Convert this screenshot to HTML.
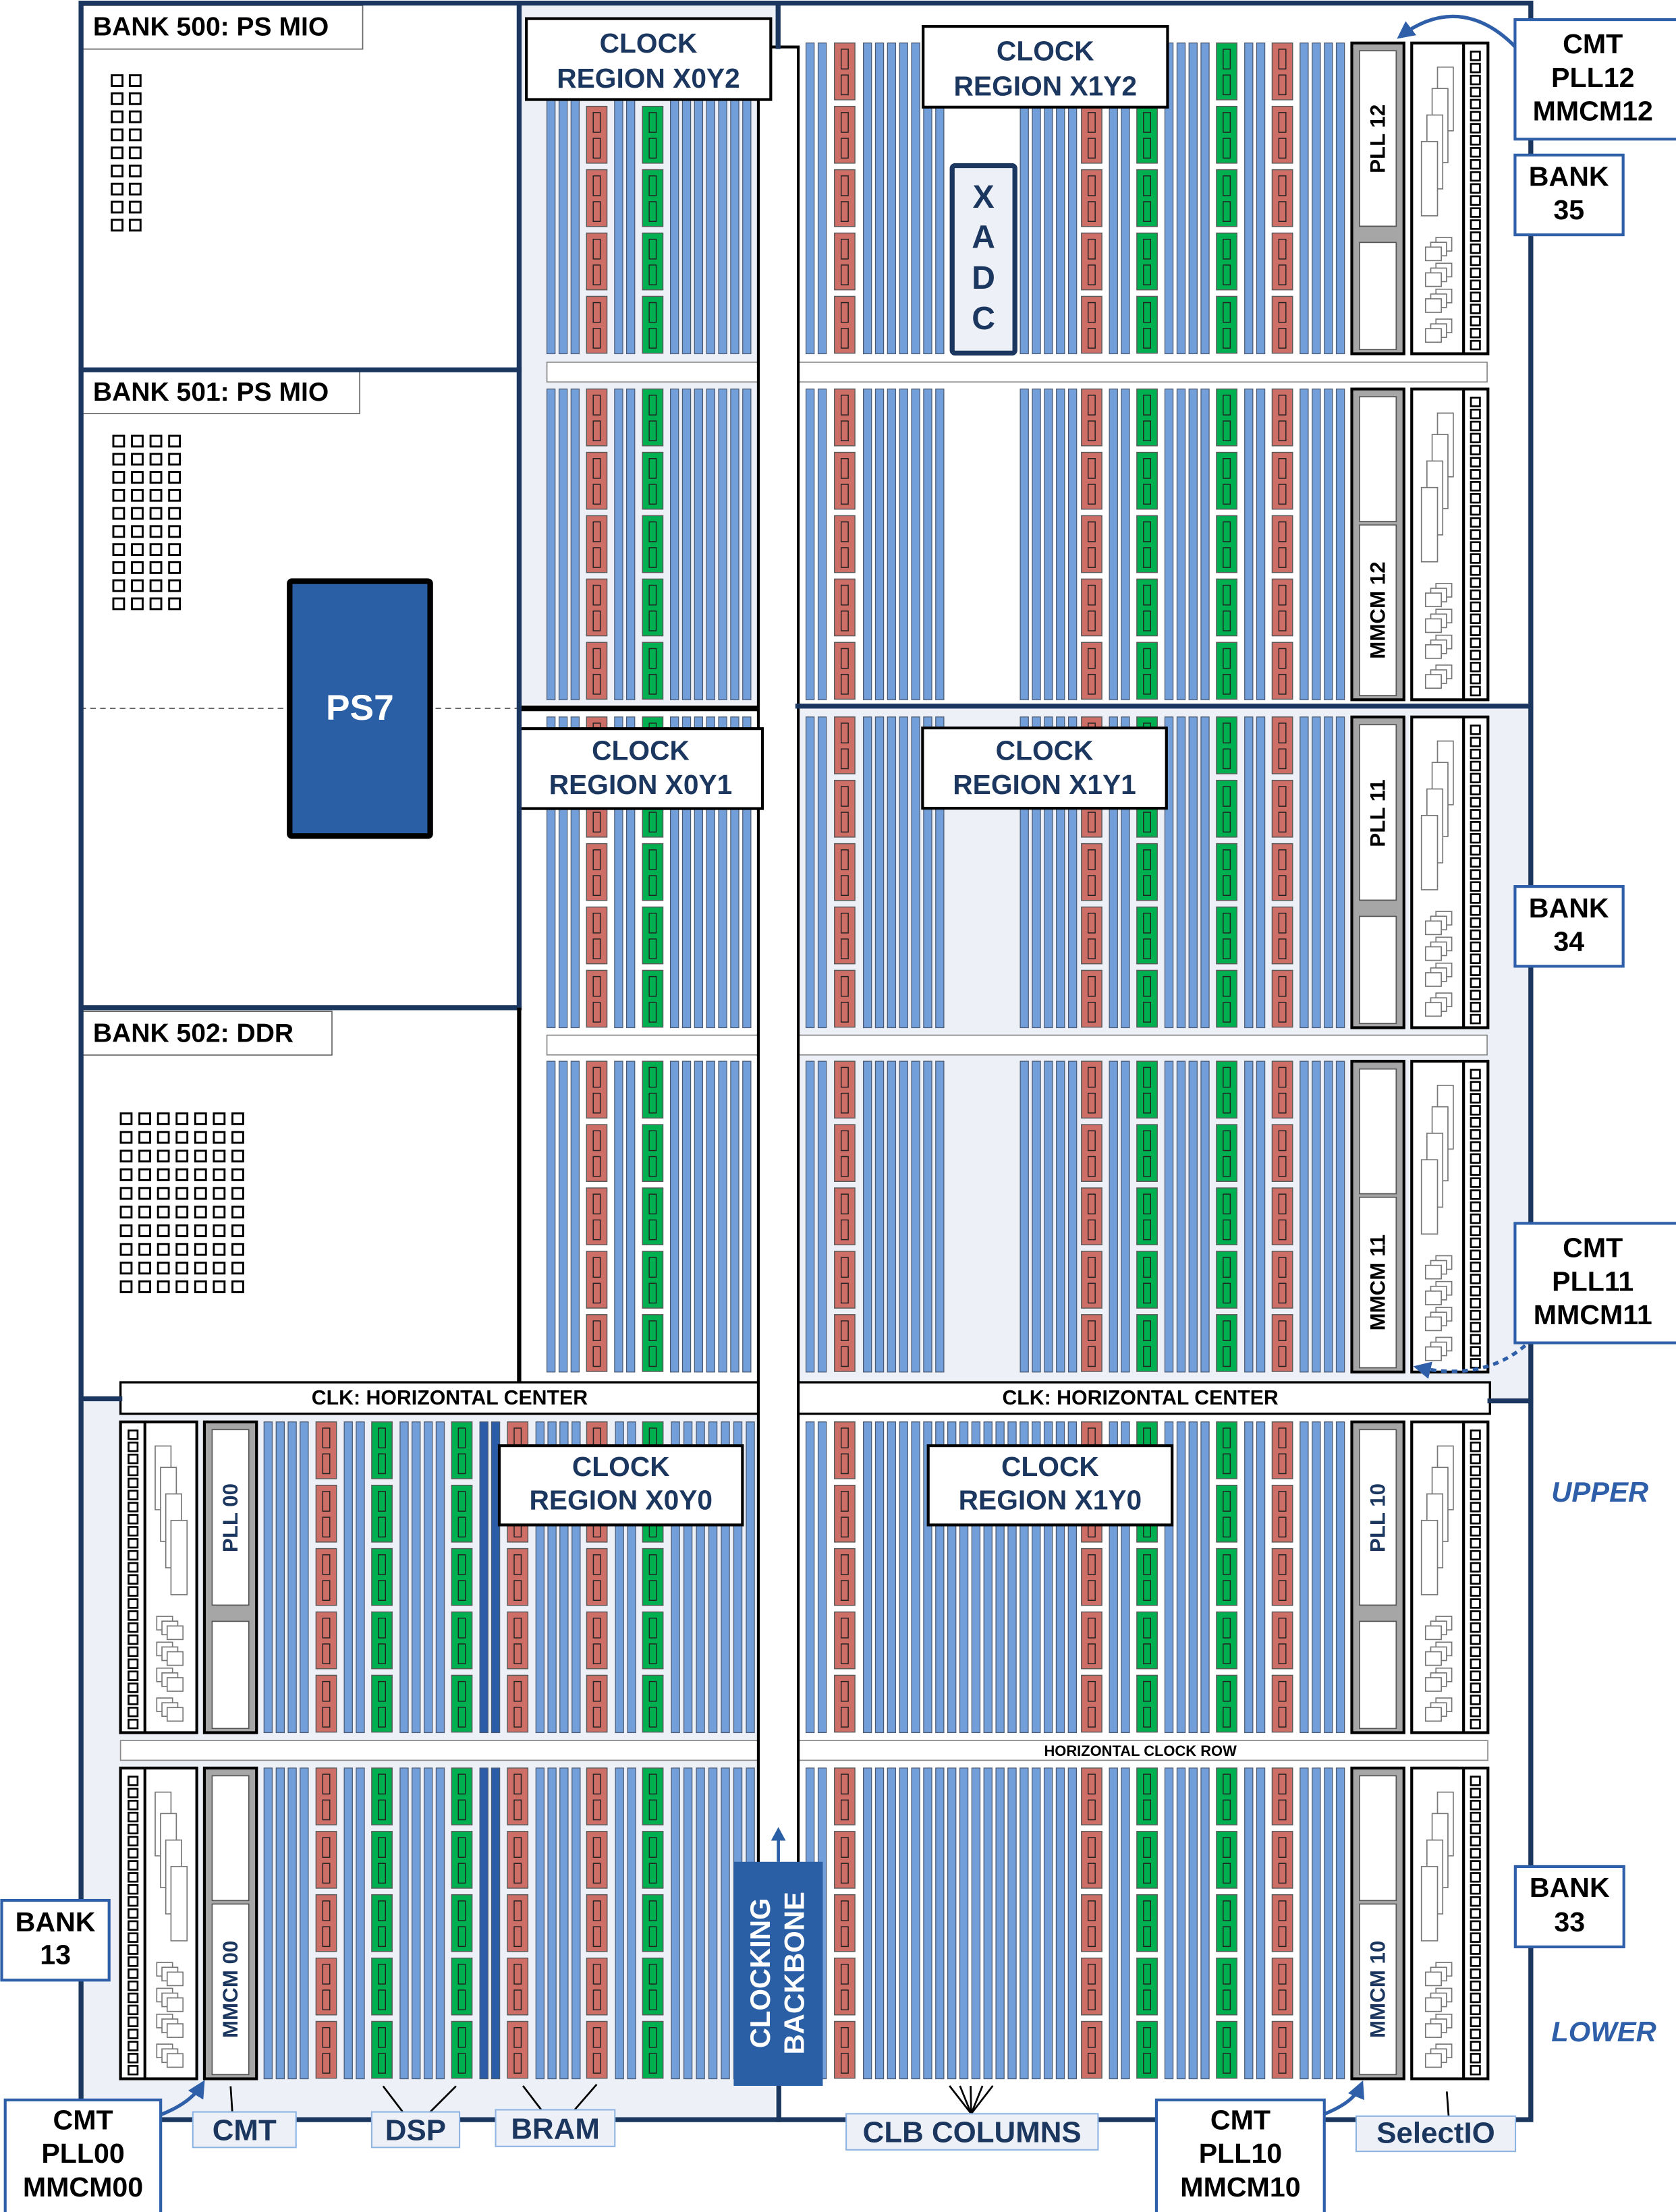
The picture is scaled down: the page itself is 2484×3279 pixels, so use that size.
<!DOCTYPE html>
<html><head><meta charset="utf-8"><style>
html,body{margin:0;padding:0;background:#fff;}
svg{display:block;}
text{font-family:"Liberation Sans",Arial,sans-serif;font-weight:bold;}
</style></head><body>
<svg id="s" xmlns="http://www.w3.org/2000/svg" width="2484" height="3279" viewBox="0 0 1189 1569.5">
<defs>
<marker id="ah" viewBox="0 0 10 10" refX="8" refY="5" markerWidth="5" markerHeight="5" orient="auto"><path d="M0,0 L10,5 L0,10 z" fill="#2e5fa8"/></marker>
</defs>
<rect x="0" y="0" width="1189" height="1570" fill="#fff"/>
<!-- backgrounds -->
<rect x="370" y="3" width="182" height="497" fill="#edf0f6"/>
<rect x="552" y="500" width="534" height="493" fill="#edf0f6"/>
<rect x="57" y="993" width="493" height="511" fill="#edf0f6"/>
<g id="gen"></g>
<!-- PS area -->
<line x1="57" y1="502.6" x2="368" y2="502.6" stroke="#333" stroke-width="0.7" stroke-dasharray="4,3"/>
<rect x="205.5" y="412.4" width="99.7" height="180.8" fill="#2a5fa6" stroke="#000" stroke-width="4" rx="1.5"/>
<text x="255.3" y="510.6" font-size="25.5" fill="#fff" text-anchor="middle">PS7</text>
<rect x="57.5" y="3.8" width="199.8" height="31" fill="#fff" stroke="#666" stroke-width="0.8"/>
<text x="66" y="25.2" font-size="18.7" fill="#000">BANK 500: PS MIO</text>
<rect x="57.5" y="262.8" width="197.7" height="30.6" fill="#fff" stroke="#666" stroke-width="0.8"/>
<text x="66" y="284.4" font-size="18.7" fill="#000">BANK 501: PS MIO</text>
<rect x="57.5" y="717.6" width="178" height="31" fill="#fff" stroke="#666" stroke-width="0.8"/>
<text x="66" y="739.2" font-size="18.7" fill="#000">BANK 502: DDR</text>
<g id="gen2"></g>
<!-- horizontal bar texts -->
<text x="319" y="996.5" font-size="14.5" fill="#000" text-anchor="middle">CLK: HORIZONTAL CENTER</text>
<text x="809" y="996.5" font-size="14.5" fill="#000" text-anchor="middle">CLK: HORIZONTAL CENTER</text>
<text x="809" y="1246" font-size="10.5" fill="#000" text-anchor="middle">HORIZONTAL CLOCK ROW</text>
<!-- CMT texts -->
<g font-size="15">
<text transform="translate(977.5,98.5) rotate(-90)" text-anchor="middle" dominant-baseline="central" fill="#000">PLL 12</text>
<text transform="translate(977.5,433) rotate(-90)" text-anchor="middle" dominant-baseline="central" fill="#000">MMCM 12</text>
<text transform="translate(977.5,577) rotate(-90)" text-anchor="middle" dominant-baseline="central" fill="#000">PLL 11</text>
<text transform="translate(977.5,910) rotate(-90)" text-anchor="middle" dominant-baseline="central" fill="#000">MMCM 11</text>
<text transform="translate(977.5,1077) rotate(-90)" text-anchor="middle" dominant-baseline="central" fill="#1c375f">PLL 10</text>
<text transform="translate(977.5,1411.5) rotate(-90)" text-anchor="middle" dominant-baseline="central" fill="#1c375f">MMCM 10</text>
<text transform="translate(163.5,1077) rotate(-90)" text-anchor="middle" dominant-baseline="central" fill="#1c375f">PLL 00</text>
<text transform="translate(163.5,1411.5) rotate(-90)" text-anchor="middle" dominant-baseline="central" fill="#1c375f">MMCM 00</text>
</g>
<!-- XADC -->
<rect x="675.5" y="117.5" width="44.5" height="133" fill="#edf0f6" stroke="#1c375f" stroke-width="3.5" rx="2"/>
<g font-size="23" fill="#1c375f" text-anchor="middle">
<text x="697.7" y="147.5">X</text><text x="697.7" y="175.9">A</text><text x="697.7" y="204.8">D</text><text x="697.7" y="233.6">C</text>
</g>
<!-- clock region labels -->
<g font-size="19.5" fill="#1c375f" text-anchor="middle">
<rect x="373.4" y="13.2" width="173.4" height="57.4" fill="#fff" stroke="#000" stroke-width="2"/>
<text x="460" y="37.3">CLOCK</text><text x="460" y="62.2">REGION X0Y2</text>
<rect x="654.9" y="18.7" width="173.4" height="57.3" fill="#fff" stroke="#000" stroke-width="2"/>
<text x="741.6" y="42.8">CLOCK</text><text x="741.6" y="67.7">REGION X1Y2</text>
<rect x="368.2" y="517" width="172.7" height="56.7" fill="#fff" stroke="#000" stroke-width="2"/>
<text x="454.5" y="539.3">CLOCK</text><text x="454.5" y="563.3">REGION X0Y1</text>
<rect x="654.5" y="516.5" width="173" height="57" fill="#fff" stroke="#000" stroke-width="2"/>
<text x="741" y="539.3">CLOCK</text><text x="741" y="563.3">REGION X1Y1</text>
<rect x="354.2" y="1025.8" width="172.5" height="56.2" fill="#fff" stroke="#000" stroke-width="2"/>
<text x="440.5" y="1047.3">CLOCK</text><text x="440.5" y="1071.1">REGION X0Y0</text>
<rect x="658.5" y="1025.8" width="173" height="56.2" fill="#fff" stroke="#000" stroke-width="2"/>
<text x="745" y="1047.3">CLOCK</text><text x="745" y="1071.1">REGION X1Y0</text>
</g>
<!-- frame lines -->
<g stroke="#1c375f" stroke-width="3.5" fill="none" stroke-linecap="square">
<path d="M57.5,2.2 H1086 V1504 H57.5 Z"/>
<line x1="368.3" y1="2.2" x2="368.3" y2="715"/>
<line x1="57.5" y1="262.4" x2="368.3" y2="262.4"/>
<line x1="57.5" y1="715" x2="368.3" y2="715"/>
<line x1="57.5" y1="992.5" x2="85" y2="992.5"/>
<line x1="1057" y1="994" x2="1086" y2="994"/>
<line x1="566" y1="501" x2="1086" y2="501"/>
<line x1="552" y1="2.2" x2="552" y2="33"/>
<line x1="552.5" y1="1480" x2="552.5" y2="1504"/>
</g>
<line x1="368.3" y1="715" x2="368.3" y2="981" stroke="#000" stroke-width="3"/>
<line x1="370" y1="502.6" x2="538" y2="502.6" stroke="#000" stroke-width="4"/>
<!-- clocking backbone box -->
<rect x="520.5" y="1321" width="63.2" height="159" fill="#2a5fa6"/>
<line x1="552.2" y1="1321" x2="552.2" y2="1304" stroke="#2a5fa6" stroke-width="2.2"/>
<polygon points="547,1306 557.4,1306 552.2,1296.4" fill="#2a5fa6"/>
<g font-size="20" fill="#fff">
<text transform="translate(539.3,1400) rotate(-90)" text-anchor="middle" dominant-baseline="central">CLOCKING</text>
<text transform="translate(563.3,1400) rotate(-90)" text-anchor="middle" dominant-baseline="central">BACKBONE</text>
</g>
<!-- bottom labels -->
<g stroke="#000" stroke-width="1.3">
<line x1="163.6" y1="1480.3" x2="164.8" y2="1498.5"/>
<line x1="271.8" y1="1480.2" x2="285.7" y2="1498.5"/>
<line x1="323.5" y1="1480.2" x2="305.2" y2="1498.5"/>
<line x1="371" y1="1480" x2="384" y2="1497"/>
<line x1="423.3" y1="1479" x2="407.4" y2="1497.3"/>
<line x1="689" y1="1499.8" x2="673.6" y2="1480"/>
<line x1="689" y1="1499.8" x2="681" y2="1480"/>
<line x1="689" y1="1499.8" x2="688.6" y2="1480"/>
<line x1="689" y1="1499.8" x2="697" y2="1480"/>
<line x1="689" y1="1499.8" x2="704.3" y2="1480"/>
<line x1="1026.4" y1="1484" x2="1027.7" y2="1501.5"/>
</g>
<g fill="#edf0f6" stroke="#8eb4e3" stroke-width="1">
<rect x="136.8" y="1498.5" width="73.2" height="25.2"/>
<rect x="263.7" y="1498.5" width="62.3" height="25.2"/>
<rect x="351.6" y="1497" width="84.6" height="26"/>
<rect x="600.3" y="1499.8" width="178.7" height="25.6"/>
<rect x="962.1" y="1501.5" width="113" height="25"/>
</g>
<g font-size="21" fill="#1c375f" text-anchor="middle">
<text x="173.4" y="1518.5">CMT</text>
<text x="294.8" y="1518.5">DSP</text>
<text x="394" y="1517.5">BRAM</text>
<text x="689.6" y="1520">CLB COLUMNS</text>
<text x="1018.6" y="1520.5">SelectIO</text>
</g>
<!-- callouts -->
<g fill="#fff" stroke="#2e5fa8" stroke-width="2">
<rect x="1074.8" y="13.9" width="120" height="84.8"/>
<rect x="1074.8" y="110" width="76.7" height="56.6"/>
<rect x="1074.8" y="629" width="76.7" height="56.6"/>
<rect x="1074.8" y="868" width="120" height="84.8"/>
<rect x="1075" y="1324.4" width="77" height="57"/>
<rect x="1.2" y="1348.4" width="76.2" height="56.6"/>
<rect x="3.7" y="1490" width="110.3" height="82"/>
<rect x="820.4" y="1490" width="119.1" height="82"/>
</g>
<g font-size="19.7" fill="#000" text-anchor="middle">
<text x="1130" y="37.9">CMT</text><text x="1130" y="61.8">PLL12</text><text x="1130" y="85.5">MMCM12</text>
<text x="1113" y="131.9">BANK</text><text x="1113" y="155.6">35</text>
<text x="1113" y="650.9">BANK</text><text x="1113" y="674.6">34</text>
<text x="1130" y="891.9">CMT</text><text x="1130" y="915.8">PLL11</text><text x="1130" y="939.5">MMCM11</text>
<text x="1113.5" y="1346">BANK</text><text x="1113.5" y="1370.3">33</text>
<text x="39.3" y="1370.4">BANK</text><text x="39.3" y="1393.5">13</text>
<text x="58.9" y="1510.8">CMT</text><text x="58.9" y="1534.5">PLL00</text><text x="58.9" y="1558.4">MMCM00</text>
<text x="880" y="1510.8">CMT</text><text x="880" y="1534.5">PLL10</text><text x="880" y="1558.4">MMCM10</text>
</g>
<g font-size="20" fill="#2e5fa8" font-style="italic" text-anchor="middle">
<text x="1135" y="1065.5">UPPER</text>
<text x="1137.8" y="1448.5">LOWER</text>
</g>
<!-- arrows -->
<g fill="none" stroke="#2e5fa8" stroke-width="2.5">
<path d="M1074.8,33 C1050,8 1022,4 993,26" marker-end="url(#ah)"/>
<path d="M1082,954.7 C1062,972 1035,977 1005,970" stroke-dasharray="4,3.5" marker-end="url(#ah)"/>
<path d="M114,1500.5 C128,1495 138,1488 144,1478" marker-end="url(#ah)"/>
<path d="M940,1499.8 C954,1494 962,1488 966,1478.5" marker-end="url(#ah)"/>
</g>
</svg>
<script>
(function(){
var NS="http://www.w3.org/2000/svg";
var G=document.getElementById('gen'), G2=document.getElementById('gen2');
function R(p,x,y,w,h,f,s,sw){var r=document.createElementNS(NS,'rect');r.setAttribute('x',x);r.setAttribute('y',y);r.setAttribute('width',w);r.setAttribute('height',h);r.setAttribute('fill',f||'none');if(s){r.setAttribute('stroke',s);r.setAttribute('stroke-width',sw||1);}p.appendChild(r);return r;}
function L(p,x1,y1,x2,y2,s,sw){var l=document.createElementNS(NS,'line');l.setAttribute('x1',x1);l.setAttribute('y1',y1);l.setAttribute('x2',x2);l.setAttribute('y2',y2);l.setAttribute('stroke',s);l.setAttribute('stroke-width',sw);p.appendChild(l);}
var H=[[30.5,251],[276,496.5],[508.7,729.2],[753,973.5],[1008.9,1229.4],[1254.5,1475]];
var BW=5.8;
function blue(x,h,d){R(G,x,h[0],BW,h[1]-h[0],d?'#2a5ca8':'#729ed9','#4b5a72',0.6);}
function blk(x,h,c){for(var i=0;i<5;i++){var y=h[0]+i*44.95;R(G,x,y,14.5,40.3,c,'#5a5a5a',0.7);R(G,x+4.75,y+4.4,5,14,'none','#222',0.7);R(G,x+4.75,y+22.7,5,14,'none','#222',0.7);}}
function draw(spec,h){spec.forEach(function(c){var t=c[0],x=c[1];if(t=='b')blue(x,h);else if(t=='d')blue(x,h,1);else if(t=='r')blk(x,h,'#cd6e67');else blk(x,h,'#00b050');});}
function seq(t,x0,st,n){var a=[];for(var k=0;k<n;k++)a.push([t,+(x0+k*st).toFixed(2)]);return a;}
var X0U=[['b',388],['b',396.6],['b',405.1],['r',416.1],['b',436],['b',444.5],['g',455.8]].concat(seq('b',475.6,8.55,7));
var X0L=[['b',187.3],['b',195.9],['b',204.4],['b',212.9],['r',224.2],['b',244.2],['b',252.7],['g',263.7],['b',283.8],['b',292.3],['b',300.9],['b',309.4],['g',320.4],['d',340.4],['d',348.7],['r',360],['b',380.2],['b',388.7],['b',397.2],['b',405.8],['r',416.2],['b',436.6],['b',445.2],['g',455.9]].concat(seq('b',476.3,8.85,7));
var X1tail=[['r',767.2],['b',787],['b',795.5],['g',806.5],['b',826.4],['b',835],['b',843.5],['b',852],['g',863],['b',883],['b',891.5],['r',902.5],['b',922.3],['b',930.9],['b',939.5],['b',948]];
var X1head=[['b',571.8],['b',580.4],['r',592]];
var X1U=X1head.concat(seq('b',612.5,8.55,7),seq('b',723.8,8.55,5),X1tail);
var X1L=X1head.concat(seq('b',612.5,8.55,18),X1tail);
for(var i=0;i<4;i++){draw(X0U,H[i]);draw(X1U,H[i]);}
for(var i=4;i<6;i++){draw(X0L,H[i]);draw(X1L,H[i]);}
// bars
R(G,388,257,667,14,'#fff','#888',0.8);
R(G,388,734.5,667,14,'#fff','#888',0.8);
R(G,85.5,1235,970,14,'#fff','#888',0.8);
R(G,85.5,980.8,971.5,22.3,'#fff','#000',1.6);
// backbone
R(G,538,33.3,28.3,1300,'#fff');
L(G,538,33.3,538,1322,'#000',2);L(G,566.3,33.3,566.3,1322,'#000',2);L(G,537,33.3,567.3,33.3,'#000',2);
// CMT boxes
function cmt(x,h,pll){var y0=h[0],y1=h[1];R(G,x,y0,37,y1-y0,'#a6a6a6','#000',2);
 if(pll){R(G,x+5.5,y0+5.5,26,124.5,'#fff','#555',0.8);R(G,x+5.5,y0+141.5,26,y1-y0-144.5,'#fff','#555',0.8);}
 else{R(G,x+5.5,y0+5.5,26,88.5,'#fff','#555',0.8);R(G,x+5.5,y0+96.5,26,y1-y0-99.5,'#fff','#555',0.8);}}
function io(x,h,mirror){var g=document.createElementNS(NS,'g');g.setAttribute('transform',mirror?'translate('+(x+54.1)+','+h[0]+') scale(-1,1)':'translate('+x+','+h[0]+')');G.appendChild(g);
 var hh=h[1]-h[0];R(g,0,0,54.1,hh,'#fff','#000',2);L(g,36.8,0,36.8,hh,'#000',2);
 for(var k=0;k<25;k++)R(g,42,6.1+k*8.55,6.4,6.1,'#fff','#000',1.3);
 [[18.3,17.1,11.2,45.2],[14.5,32.3,11.2,52.5],[10.8,51.1,11.2,52.4],[6.9,69.9,11.4,52.7]].forEach(function(r){R(g,r[0],r[1],r[2],r[3],'#fff','#777',0.8);});
 [0,18.3,36.7,57.9].forEach(function(o){R(g,17.2,138+o,11.2,9.6,'#fff','#777',0.8);R(g,13.5,141.4+o,11.2,9.6,'#fff','#777',0.8);R(g,9.8,144.8+o,11.2,9.6,'#fff','#777',0.8);});}
for(var i=0;i<6;i++){cmt(959,H[i],i%2==0);io(1001.5,H[i],false);}
cmt(145,H[4],true);cmt(145,H[5],false);io(85.5,H[4],true);io(85.5,H[5],true);
// PS pads
function grid(x0,y0,nc,nr,dx,dy){for(var c=0;c<nc;c++)for(var r=0;r<nr;r++)R(G2,x0+c*dx,y0+r*dy,7.6,7.6,'#fff','#000',1.4);}
grid(79.3,53.4,2,9,12.8,12.82);
grid(80.4,309.2,4,10,13.2,12.82);
grid(85.7,790,7,10,13.2,13.25);
})();
</script>
</body></html>
